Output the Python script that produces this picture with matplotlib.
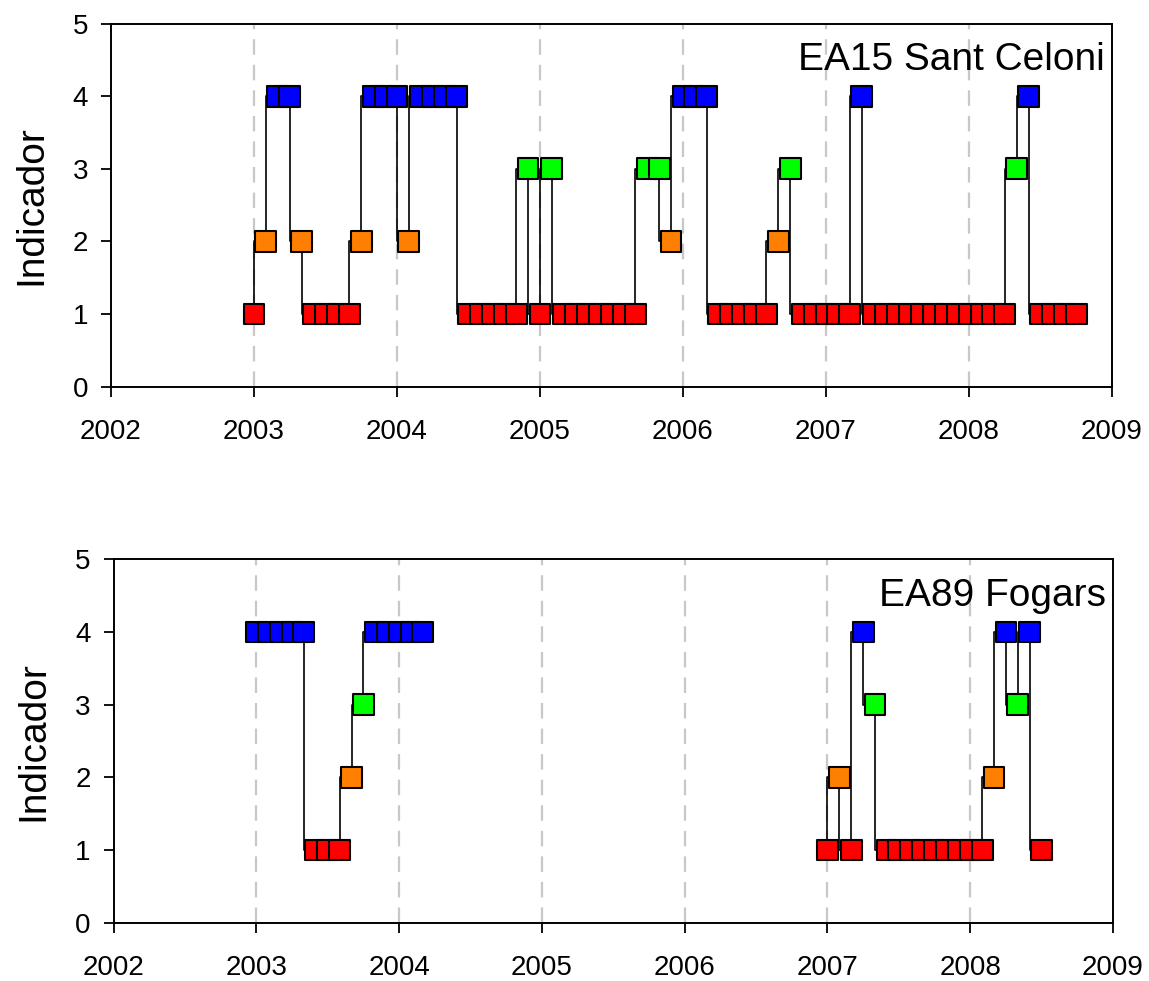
import numpy as np
import matplotlib
matplotlib.use("Agg")
import matplotlib.pyplot as plt

plt.rcParams["font.family"] = ["Liberation Sans", "DejaVu Sans"]

# monthly samples, first month = Jan 2003
START_YEAR = 2003

# EA15 Sant Celoni, one value per month from Jan 2003
celoni = [1, 2, 4, 4, 2, 1, 1, 1, 1, 2, 4, 4,
          4, 2, 4, 4, 4, 4, 1, 1, 1, 1, 1, 3,
          1, 3, 1, 1, 1, 1, 1, 1, 1, 3, 3, 2,
          4, 4, 4, 1, 1, 1, 1, 1, 2, 3, 1, 1,
          1, 1, 1, 4, 1, 1, 1, 1, 1, 1, 1, 1,
          1, 1, 1, 1, 3, 4, 1, 1, 1, 1]

# EA89 Fogars, None = no sample that month
fogars = [4, 4, 4, 4, 4, 1, 1, 1, 2, 3, 4, 4,
          4, 4, 4] + [None] * 33 + [
          1, 2, 1, 4, 3, 1, 1, 1, 1, 1, 1, 1,
          1, 1, 2, 4, 3, 4, 1]

stations = ["EA15 Sant Celoni", "EA89 Fogars"]
year_ticks = [2002, 2003, 2004, 2005, 2006, 2007, 2008, 2009]
level_colors = {1: "#ff0000", 2: "#ff8000", 3: "#00ff00", 4: "#0000ff"}


def draw_panel(ax, values, title):
    y = np.array([np.nan if v is None else v for v in values], dtype=float)
    x = START_YEAR + np.arange(len(y)) / 12.0

    # vertical dashed guides at each year
    for yr in year_ticks[1:-1]:
        ax.axvline(yr, color="#c8c8c8", lw=1.6, dashes=(7, 4.5), zorder=0)

    # step line per continuous run (no stub across the gap)
    ok = ~np.isnan(y)
    idx = np.flatnonzero(ok)
    runs = np.split(idx, np.flatnonzero(np.diff(idx) > 1) + 1)
    for r in runs:
        ax.step(x[r], y[r], where="pre", color="black", lw=1.2, zorder=2)

    cols = [level_colors[int(v)] for v in y[ok]]
    ax.scatter(x[ok], y[ok], s=225, marker="s", c=cols,
               edgecolors="black", linewidths=1.5, zorder=3)

    ax.set_xlim(2002, 2009)
    ax.set_ylim(0, 5)
    ax.set_xticks(year_ticks)
    ax.set_yticks(range(6))
    ax.tick_params(direction="out", length=7.5, width=1.3, labelsize=20)
    ax.tick_params(axis="x", pad=16)
    ax.tick_params(axis="y", pad=9)
    for s in ax.spines.values():
        s.set_linewidth(1.4)
    ax.set_ylabel("Indicador", fontsize=28)
    ax.yaxis.set_label_coords(-0.062, 0.5)
    ax.text(0.993, 0.872, title, transform=ax.transAxes, ha="right",
            va="baseline", fontsize=28)


fig = plt.figure(figsize=(11.49, 9.81), dpi=100)
ax1 = fig.add_axes([0.0966, 0.6058, 0.8712, 0.3702])
ax2 = fig.add_axes([0.0988, 0.0594, 0.8699, 0.3705])

draw_panel(ax1, celoni, stations[0])
draw_panel(ax2, fogars, stations[1])

fig.savefig("out.png", dpi=100)
